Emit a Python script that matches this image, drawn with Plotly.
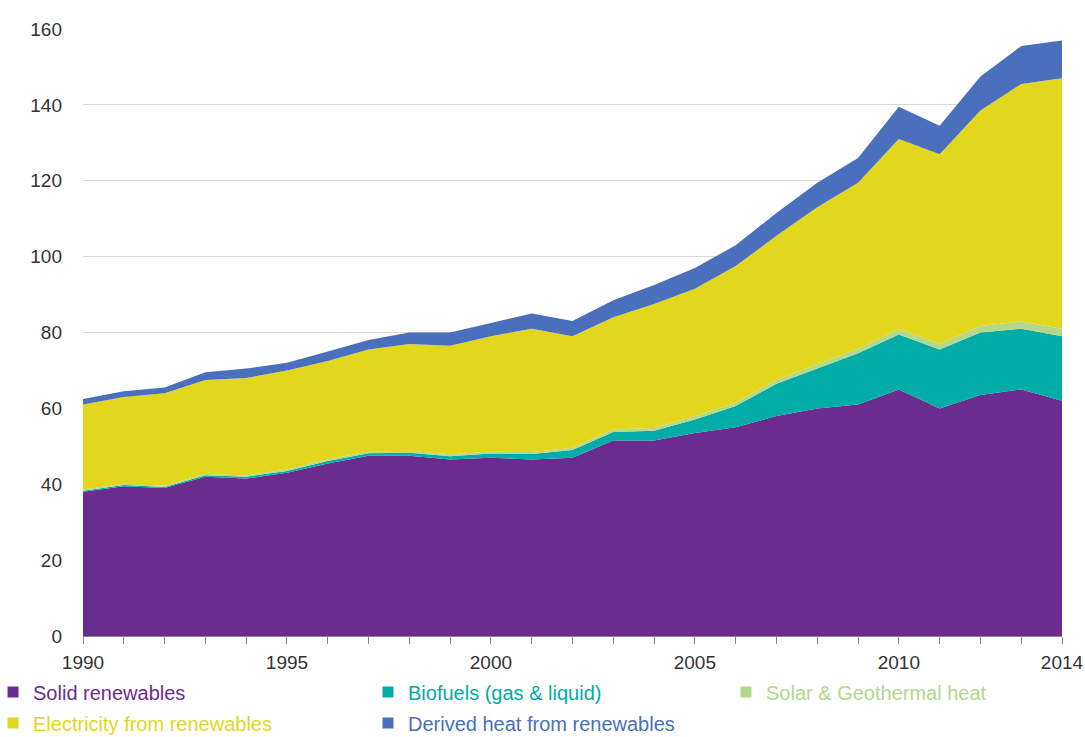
import plotly.graph_objects as go

years = list(range(1990, 2015))

solid_renewables = [38.0, 39.5, 39.0, 42.0, 41.5, 43.0, 45.5, 47.5, 47.5, 46.5, 47.0, 46.5, 47.0,
                    51.5, 51.5, 53.5, 55.0, 58.0, 60.0, 61.0, 65.0, 60.0, 63.5, 65.0, 62.0]
biofuels = [0.3, 0.3, 0.3, 0.4, 0.5, 0.5, 0.6, 0.7, 0.8, 0.9, 1.1, 1.5, 2.0,
            2.3, 2.6, 3.6, 5.6, 8.5, 10.5, 13.5, 14.5, 15.5, 16.5, 16.0, 17.0]
solar_geothermal = [0.3, 0.3, 0.3, 0.3, 0.3, 0.4, 0.4, 0.4, 0.5, 0.5, 0.5, 0.5, 0.6,
                    0.6, 0.7, 0.8, 0.9, 1.0, 1.1, 1.2, 1.4, 1.5, 1.7, 1.9, 2.0]
electricity = [22.4, 22.9, 24.4, 24.8, 25.7, 26.1, 26.0, 26.9, 28.2, 28.6, 30.4, 32.5, 29.4,
               29.6, 32.7, 33.6, 36.0, 38.0, 41.4, 43.8, 50.1, 50.0, 56.8, 62.6, 66.0]
derived_heat = [1.5, 1.5, 1.5, 2.0, 2.5, 2.0, 2.5, 2.5, 3.0, 3.5, 3.5, 4.0, 4.0,
                4.5, 5.0, 5.5, 5.5, 6.0, 6.5, 6.5, 8.5, 7.5, 9.0, 10.0, 10.0]

series_names = ["Solid renewables", "Biofuels (gas & liquid)", "Solar & Geothermal heat",
                "Electricity from renewables", "Derived heat from renewables"]
series_values = [solid_renewables, biofuels, solar_geothermal, electricity, derived_heat]
colors = ["#6b2c8f", "#00aca8", "#b3d88c", "#e2d71d", "#4a6fbd"]
legend_ids = ["legend", "legend2", "legend3", "legend4", "legend5"]
legend_x = [-0.0919, 0.2911, 0.6568, -0.0919, 0.2911]
legend_y = [-0.0923, -0.0923, -0.0923, -0.1433, -0.1433]

x_tickvals = [1990, 1995, 2000, 2005, 2010, 2014]
y_tickvals = [0, 20, 40, 60, 80, 100, 120, 140, 160]

FONT = "Liberation Sans, Arial, sans-serif"

fig = go.Figure()
for name, vals, col in zip(series_names, series_values, colors):
    fig.add_trace(go.Scatter(
        x=years, y=vals, name=name, stackgroup="one", mode="lines",
        line=dict(width=0, color=col), fillcolor=col, showlegend=False,
    ))

for name, col, lg in zip(series_names, colors, legend_ids):
    fig.add_trace(go.Scatter(
        x=[None], y=[None], mode="markers", legend=lg,
        marker=dict(symbol="square", size=11, color=col),
        name=f"<span style='color:{col}'>{name}</span>", showlegend=True,
    ))

legend_layout = {}
for lg, lx, ly in zip(legend_ids, legend_x, legend_y):
    legend_layout[lg] = dict(orientation="h", x=lx, xanchor="left", y=ly, yanchor="middle",
                             itemwidth=30, font=dict(family=FONT, size=20),
                             bgcolor="rgba(0,0,0,0)")

fig.update_layout(
    width=1085, height=737,
    margin=dict(l=83, r=23, t=29, b=101, autoexpand=False),
    paper_bgcolor="white", plot_bgcolor="white",
    font=dict(family=FONT, size=19, color="#333333"),
    xaxis=dict(range=[1990, 2014], tickvals=x_tickvals, ticks="outside", ticklen=7,
               tickcolor="#888888", showgrid=False, showline=True, linecolor="#888888",
               linewidth=1, zeroline=False, automargin=False, ticklabeloverflow="allow",
               ticklabelstandoff=2,
               tickfont=dict(family=FONT, size=19, color="#333333"),
               minor=dict(dtick=1, tick0=1990, ticks="outside", ticklen=7, tickcolor="#888888")),
    yaxis=dict(range=[0, 160], tickvals=y_tickvals, showgrid=True, gridcolor="#d9d9d9",
               gridwidth=1, zeroline=False, showline=False, ticks="", automargin=False,
               ticklabelstandoff=20, tickfont=dict(family=FONT, size=19, color="#333333")),
    **legend_layout,
)

fig.write_html("out.html", config={"displayModeBar": False},
               post_script="document.body.style.margin='0';document.body.style.overflow='hidden';")
